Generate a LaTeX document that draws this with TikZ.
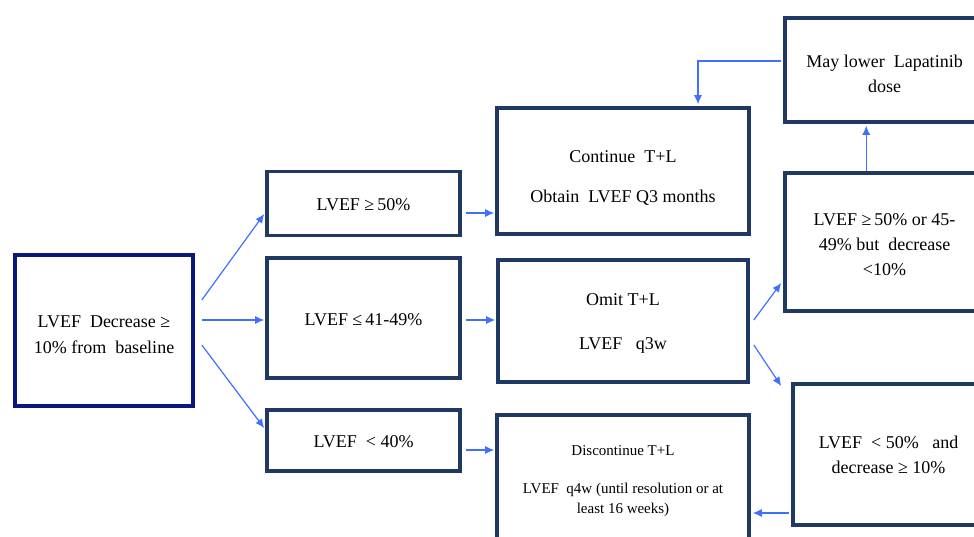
\documentclass[tikz,border=0pt]{standalone}
\usepackage{fontspec}
\setmainfont{Liberation Serif}
\usetikzlibrary{calc,arrows.meta}
\definecolor{boxcol}{RGB}{31,56,100}
\definecolor{navycol}{RGB}{12,22,128}
\definecolor{arrcol}{RGB}{64,112,255}
\newcommand{\tx}[2][4pt]{\raisebox{-#1}[\height][\depth]{\begin{tabular}{@{}c@{}}#2\end{tabular}}}
\tikzset{
  box/.style={draw=boxcol, line width=3.6pt, fill=white, inner sep=0pt,
    font=\fontsize{18}{25}\selectfont},
  arr/.style={draw=arrcol, line width=1.2pt, -{Latex[length=9pt,width=8pt]}},
}
\begin{document}
\begin{tikzpicture}[x=1pt,y=-1pt]
\useasboundingbox (0,0) rectangle (974,537);
\clip (0,0) rectangle (974,537);
\fill[white] (0,0) rectangle (974,537);
% nodes
\node[box, draw=navycol, minimum width=178pt, minimum height=151pt] (a) at (104,330.5)
  {\tx[5pt]{LVEF\ \ Decrease ≥\\10\% from\ \ baseline}};
\node[box, minimum width=193pt, minimum height=64pt] (b1) at (363.5,203.5) {\tx[2pt]{LVEF ≥\,50\%}};
\node[box, minimum width=193pt, minimum height=119.5pt] (b2) at (363.5,318) {\tx[2pt]{LVEF ≤\,41-49\%}};
\node[box, minimum width=193pt, minimum height=61pt] (b3) at (363.5,440.5) {\tx[2pt]{LVEF\ \ < 40\%}};
\node[box, minimum width=252pt, minimum height=126pt] (c1) at (623,171)
  {\tx[7pt]{Continue\ \ T+L\\[15pt]Obtain\ \ LVEF Q3 months}};
\node[box, minimum width=250pt, minimum height=122pt] (c2) at (623,321)
  {\tx[1pt]{Omit T+L\\[19pt]LVEF\ \ \ q3w}};
\node[box, minimum width=252pt, minimum height=125pt, font=\fontsize{15}{20}\selectfont] (c3) at (623,477.5)
  {\tx[3pt]{Discontinue T+L\\[18pt]LVEF\ \ q4w (until resolution or at\\least 16 weeks)}};
\node[box, minimum width=199pt, minimum height=104pt] (d1) at (884.5,70)
  {\tx[5pt]{May lower\ \ Lapatinib\\dose}};
\node[box, minimum width=199pt, minimum height=138pt] (d2) at (884.5,242)
  {\tx[4pt]{LVEF ≥\,50\% or 45-\\49\% but\ \ decrease\\<10\%}};
\node[box, minimum width=191pt, minimum height=141pt] (d3) at (888.5,454.5)
  {\tx[1pt]{LVEF\ \ < 50\%\ \ \ and\\decrease ≥ 10\%}};
% connectors
\draw[arr] ($(a.east)+(7,-30.5)$) -- ($(b1.west)+(-1,10.5)$);
\draw[arr] ($(a.east)+(7,-10.5)$) -- ($(b2.west)+(-1,2)$);
\draw[arr] ($(a.east)+(7,14.5)$) -- ($(b3.west)+(-1,-12.5)$);
\draw[arr] ($(b1.east)+(4,9.5)$) -- ($(c1.west)+(-1,42)$);
\draw[arr] ($(b2.east)+(4,2)$) -- ($(c2.west)+(-1,-1)$);
\draw[arr] ($(b3.east)+(4,9.5)$) -- ($(c3.west)+(-1,-27.5)$);
\draw[arr] ($(c2.east)+(4,-1)$) -- ($(d2.west)+(-2,41)$);
\draw[arr] ($(c2.east)+(4,24)$) -- ($(d3.west)+(-10,-68.5)$);
\draw[arr] ($(d2.north west)+(83,0)$) -- ($(d1.south west)+(83,2)$);
\draw[arr] ($(d1.west)+(-2,-9)$) -| ($(c1.north)+(75,-2)$);
\draw[arr] ($(d3.west)+(-2,58.5)$) -- ($(c3.east)+(2,35.5)$);
\end{tikzpicture}
\end{document}
